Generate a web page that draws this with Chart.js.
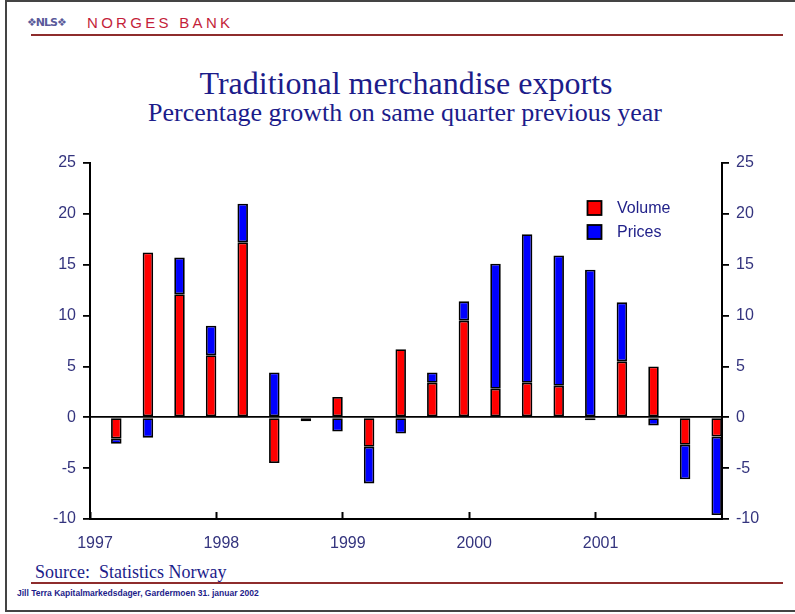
<!DOCTYPE html>
<html><head><meta charset="utf-8">
<script src="https://cdn.jsdelivr.net/npm/chart.js@4"></script>
<style>
html,body{margin:0;padding:0;background:#fff;}
#page{position:relative;width:795px;height:614px;overflow:hidden;background:#fff;}
#frame{position:absolute;left:5px;top:0;width:800px;height:608px;border-top:2px solid #444;border-left:2px solid #444;border-bottom:2px solid #444;}
.t{position:absolute;white-space:nowrap;line-height:1;}
.rule{position:absolute;left:31px;width:752px;height:2px;background:#8e2c2c;}
#logo{left:27px;top:16px;font:bold 11px "DejaVu Sans";color:#5a5a9a;letter-spacing:-1px;}
#bank{left:87px;top:14px;font:15px "Liberation Sans";color:#c41e3a;letter-spacing:3.3px;}
#title{left:0;width:812px;text-align:center;top:65px;font:32px "Liberation Serif";color:#1c1c8a;}
#sub{left:0;width:810px;text-align:center;top:98.2px;font:26px "Liberation Serif";color:#1c1c8a;}
#src{left:35px;top:562px;font:18px "Liberation Serif";color:#1c1c8a;}
#foot{left:17px;top:587.8px;font:bold 8.5px "Liberation Sans";color:#1c1c8a;}
canvas{position:absolute;left:0;top:0;}
</style></head><body>
<div id="page">
<div id="frame"></div>
<div class="t" id="logo">❖NLS❖</div>
<div class="t" id="bank">NORGES BANK</div>
<div class="rule" style="top:33.5px"></div>
<div class="t" id="title">Traditional merchandise exports</div>
<div class="t" id="sub">Percentage growth on same quarter previous year</div>
<div class="t" id="src">Source:&nbsp; Statistics Norway</div>
<div class="rule" style="top:582px"></div>
<div class="t" id="foot">Jill Terra Kapitalmarkedsdager, Gardermoen 31. januar 2002</div>
<canvas id="c" width="795" height="614"></canvas>
</div>
<script>
const quarters=["1997Q1","1997Q2","1997Q3","1997Q4","1998Q1","1998Q2","1998Q3","1998Q4","1999Q1","1999Q2","1999Q3","1999Q4","2000Q1","2000Q2","2000Q3","2000Q4","2001Q1","2001Q2","2001Q3","2001Q4"];
const volume=[-2.1,16.2,12.1,6.1,17.2,-4.5,0,2.0,-2.9,6.7,3.4,9.5,2.8,3.4,3.1,-0.3,5.5,5.0,-2.7,-1.9];
const prices=[-0.5,-2.0,3.6,2.9,3.8,4.4,-0.4,-1.4,-3.6,-1.6,1.0,1.9,12.3,14.6,12.8,14.5,5.8,-0.8,-3.4,-7.7];
const yearLabels=["1997","1998","1999","2000","2001"];
const yTicks=[-10,-5,0,5,10,15,20,25];

const tickFont={family:"Liberation Sans",size:16};
const tickColor="#34347e";

// draws the boxed legend inside the plot
const legendBox={
id:"legendBox",
afterDraw(chart){
const ctx=chart.ctx;
const items=chart.data.datasets.filter(d=>d.stack==="main");
ctx.save();
items.forEach((d,i)=>{
const y=201+i*24;
ctx.fillStyle=d.backgroundColor;
ctx.fillRect(587.5,y,14,14);
ctx.strokeStyle="#000";ctx.lineWidth=1.8;
ctx.strokeRect(587.5,y,14,14);
ctx.fillStyle="#22228a";
ctx.font="16px 'Liberation Sans'";
ctx.textBaseline="middle";
ctx.fillText(d.label,617,y+7.5);
});
ctx.restore();
}
};

function yAxis(pos,w,zero){
return {
position:pos,min:-10,max:25,stacked:true,
afterBuildTicks:s=>{s.ticks=yTicks.map(v=>({value:v}));},
ticks:{font:tickFont,color:tickColor,padding:7},
grid:{drawOnChartArea:zero,color:c=>c.tick&&c.tick.value===0?"#000":"rgba(0,0,0,0)",lineWidth:1.8,tickLength:7,tickColor:"#000",tickWidth:1.8},
border:{color:"#000",width:2},
afterFit:s=>{s.width=w;}
};
}

new Chart(document.getElementById("c"),{
type:"bar",
data:{
labels:quarters,
datasets:[
{label:"",data:quarters.map(()=>null),stack:"pad",backgroundColor:"rgba(0,0,0,0)",borderWidth:0},
{label:"Volume",data:volume,stack:"main",backgroundColor:"#ff0000",borderColor:"#000",borderWidth:1.8,borderSkipped:false},
{label:"Prices",data:prices,stack:"main",backgroundColor:"#0000ff",borderColor:"#000",borderWidth:1.8,borderSkipped:false}
]
},
options:{
responsive:false,animation:false,
categoryPercentage:1.33,barPercentage:0.5,
layout:{padding:{top:163,left:0,right:0,bottom:0}},
plugins:{legend:{display:false},tooltip:{enabled:false}},
scales:{
x:{type:"category",display:false},
yr:{type:"linear",position:"bottom",min:1997,max:2002,offset:false,
afterBuildTicks:s=>{s.ticks=yearLabels.map(v=>({value:+v}));},
ticks:{font:tickFont,color:tickColor,padding:22,labelOffset:5,autoSkip:false,maxRotation:0,callback:v=>String(v)},
grid:{offset:false,drawOnChartArea:false,tickLength:-7,tickColor:"#000",tickWidth:2},
border:{color:"#000",width:2},
afterFit:s=>{s.height=95;}
},
y:yAxis("left",90,true),
y2:yAxis("right",73,false)
}
},
plugins:[legendBox]
});
</script>
</body></html>
